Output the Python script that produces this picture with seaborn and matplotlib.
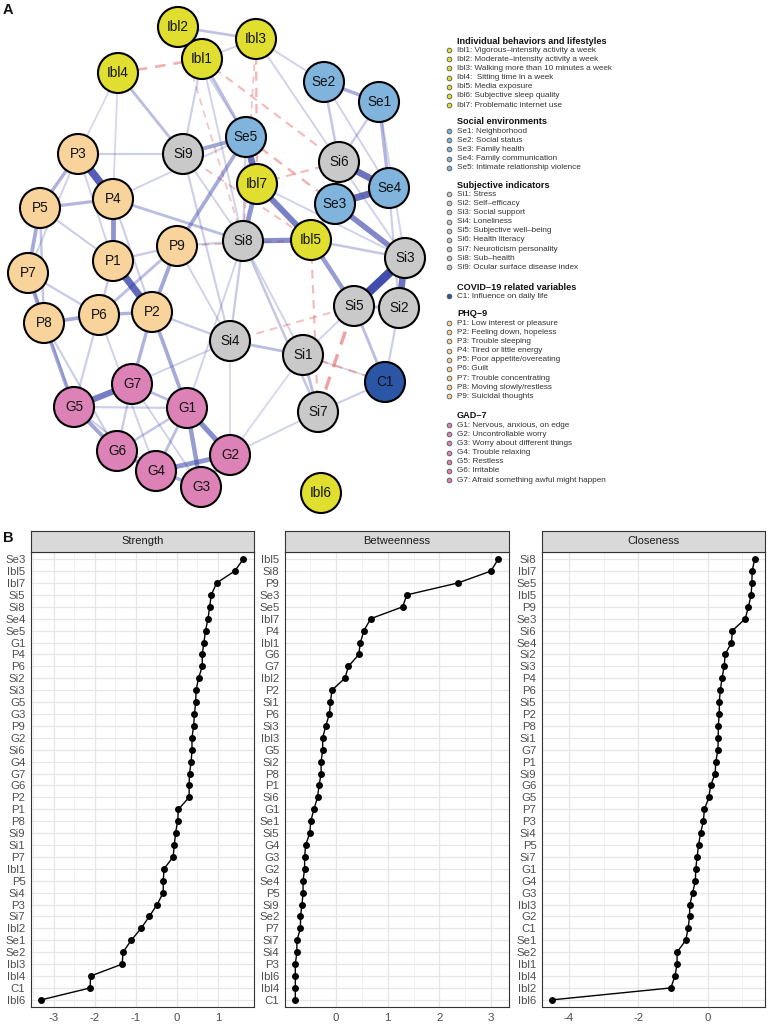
import numpy as np
import pandas as pd
import matplotlib
matplotlib.use("Agg")
import matplotlib.pyplot as plt
import seaborn as sns

# ---------------- DATA ----------------
node_names = ["Ibl1", "Ibl2", "Ibl3", "Ibl4", "Ibl5", "Ibl6", "Ibl7",
              "Se1", "Se2", "Se3", "Se4", "Se5",
              "Si1", "Si2", "Si3", "Si4", "Si5", "Si6", "Si7", "Si8", "Si9",
              "C1",
              "P1", "P2", "P3", "P4", "P5", "P6", "P7", "P8", "P9",
              "G1", "G2", "G3", "G4", "G5", "G6", "G7"]
node_groups = (["Ibl"] * 7 + ["Se"] * 5 + ["Si"] * 9 + ["C"] + ["P"] * 9 + ["G"] * 7)
# network layout (layout units)
layout_x = [202, 178, 256, 118, 311, 321, 257,
            379, 324, 335, 389, 246,
            303, 399, 405, 230, 354, 339, 318, 243, 183,
            385,
            113, 152, 78, 113, 40, 99, 28, 44, 177,
            187, 230, 201, 156, 74, 117, 132]
layout_y = [59, 27, 39, 73, 240, 493, 184,
            102, 82, 204, 188, 137,
            355, 308, 258, 341, 306, 162, 412, 241, 154,
            382,
            261, 312, 154, 199, 208, 315, 273, 323, 246,
            408, 455, 487, 471, 407, 451, 384]

edge_from = ["Si3", "P3", "P1", "Se3", "Si6", "Se5", "Si3", "G5", "Ibl7", "Se3",
             "Ibl5", "Ibl7", "G1", "G4", "G1", "P4", "Ibl5", "Se3", "Se5", "Se5",
             "P9", "P7", "P7", "P8", "P6", "P5", "P5", "P8", "P2", "P2",
             "G6", "G5", "Se2", "Se1", "Si5", "P4", "Ibl1", "Ibl2", "Ibl4", "Ibl1",
             "Si4", "Si1", "Si5", "P9", "G1", "G1", "Ibl5", "Si8", "Se2", "Se1",
             "Si4", "Ibl5", "C1", "Si7", "G2", "G6", "G7", "P8", "P1", "P3",
             "P6", "P2", "G5", "G3", "G4", "P1", "P7", "P5", "Ibl1", "Ibl3",
             "Ibl3", "Ibl2", "Si9", "Si9", "Si8", "Si4", "Si4", "Si1", "Si1", "Si6",
             "Se4", "Se1", "Se2", "P4", "P3", "P3", "P4", "P9", "P6", "P8",
             "P7", "G7", "G5", "G2", "Ibl4", "Ibl4", "Ibl1", "Ibl1", "Ibl7", "Se5",
             "P9", "Si5",
             "Ibl4", "Ibl3", "Si7", "Se5", "Ibl1", "C1", "Si9", "Ibl2", "Ibl7", "P9",
             "Si4", "Ibl5", "Ibl3"]
edge_to = ["Si5", "P4", "P2", "Se4", "Se4", "Ibl7", "Si2", "G7", "Ibl5", "Si3",
           "Si8", "Si8", "G2", "G2", "G3", "P1", "Si5", "Si6", "Si9", "P9",
           "P2", "P5", "P8", "P6", "P2", "P3", "P4", "G5", "G7", "G1",
           "G4", "G6", "Se1", "Se4", "Si2", "Si8", "Ibl2", "Ibl3", "Si9", "Se5",
           "Si1", "Si7", "C1", "P6", "G7", "G4", "Se3", "Si7", "Si6", "Si6",
           "Si8", "Si3", "Si2", "C1", "Si7", "G1", "G6", "P5", "P6", "Si9",
           "G5", "Si4", "G1", "G2", "G3", "P9", "P6", "P1", "Si9", "Si6",
           "Se2", "Se5", "Si4", "Si8", "G1", "G7", "G2", "Si8", "C1", "Si3",
           "Si2", "Si3", "Se4", "P2", "P1", "P7", "Se5", "Si4", "G4", "G6",
           "G5", "G3", "G4", "Si1", "P3", "P4", "Ibl3", "Si8", "Si3", "Si8",
           "Si8", "Si1",
           "Ibl1", "Ibl7", "Si5", "Se3", "Si6", "Si1", "Ibl5", "Si8", "Si6", "Ibl5",
           "Si5", "Si7", "Si8"]
edge_weight = [0.42, 0.36, 0.33, 0.32, 0.30, 0.30, 0.30, 0.27, 0.26, 0.24,
               0.22, 0.20, 0.22, 0.20, 0.18, 0.20, 0.18, 0.16, 0.15, 0.14,
               0.15, 0.14, 0.15, 0.14, 0.12, 0.12, 0.11, 0.14, 0.12, 0.14,
               0.14, 0.15, 0.13, 0.11, 0.10, 0.09, 0.09, 0.08, 0.09, 0.09,
               0.09, 0.09, 0.09, 0.09, 0.09, 0.09, 0.09, 0.07, 0.07, 0.06,
               0.06, 0.07, 0.05, 0.05, 0.04, 0.07, 0.06, 0.07, 0.06, 0.05,
               0.05, 0.06, 0.05, 0.07, 0.12, 0.06, 0.06, 0.05, 0.05, 0.04,
               0.04, 0.04, 0.05, 0.04, 0.04, 0.04, 0.03, 0.04, 0.03, 0.04,
               0.05, 0.04, 0.04, 0.05, 0.04, 0.04, 0.04, 0.04, 0.04, 0.05,
               0.04, 0.04, 0.05, 0.03, 0.03, 0.03, 0.04, 0.04, 0.04, 0.05,
               0.05, 0.04,
               -0.08, -0.06, -0.12, -0.07, -0.05, -0.05, -0.04, -0.03, -0.05, -0.03,
               -0.04, -0.05, -0.03]

legend_titles = ["Individual behaviors and lifestyles", "Social environments",
                 "Subjective indicators", "COVID\u201319 related variables",
                 "PHQ\u20139", "GAD\u20137"]
legend_items = [
    ["Ibl1: Vigorous\u2013intensity activity a week",
     "Ibl2: Moderate\u2013intensity activity a week",
     "Ibl3: Walking more than 10 minutes a week",
     "Ibl4:  Sitting time in a week",
     "Ibl5: Media exposure",
     "Ibl6: Subjective sleep quality",
     "Ibl7: Problematic internet use"],
    ["Se1: Neighborhood", "Se2: Social status", "Se3: Family health",
     "Se4: Family communication", "Se5: Intimate relationship violence"],
    ["Si1: Stress", "Si2: Self\u2013efficacy", "Si3: Social support", "Si4: Loneliness",
     "Si5: Subjective well\u2013being", "Si6: Health literacy",
     "Si7: Neuroticism personality", "Si8: Sub\u2013health",
     "Si9: Ocular surface disease index"],
    ["C1: Influence on daily life"],
    ["P1: Low interest or pleasure", "P2: Feeling down, hopeless",
     "P3: Trouble sleeping", "P4: Tired or little energy",
     "P5: Poor appetite/overeating", "P6: Guilt", "P7: Trouble concentrating",
     "P8: Moving slowly/restless", "P9: Suicidal thoughts"],
    ["G1: Nervous, anxious, on edge", "G2: Uncontrollable worry",
     "G3: Worry about different things", "G4: Trouble relaxing", "G5: Restless",
     "G6: Irritable", "G7: Afraid something awful might happen"],
]
legend_groups = ["Ibl", "Se", "Si", "C", "P", "G"]

strength_labels = ["Se3", "Ibl5", "Ibl7", "Si5", "Si8", "Se4", "Se5", "G1", "P4", "P6",
                   "Si2", "Si3", "G5", "G3", "P9", "G2", "Si6", "G4", "G7", "G6",
                   "P2", "P1", "P8", "Si9", "Si1", "P7", "Ibl1", "P5", "Si4", "P3",
                   "Si7", "Ibl2", "Se1", "Se2", "Ibl3", "Ibl4", "C1", "Ibl6"]
strength_values = [1.62, 1.41, 0.97, 0.84, 0.80, 0.76, 0.70, 0.66, 0.62, 0.62,
                   0.53, 0.47, 0.46, 0.43, 0.41, 0.37, 0.37, 0.35, 0.31, 0.30,
                   0.30, 0.04, 0.02, -0.03, -0.06, -0.09, -0.31, -0.33, -0.33, -0.48,
                   -0.67, -0.87, -1.11, -1.31, -1.33, -2.10, -2.11, -3.30]
betweenness_labels = ["Ibl5", "Si8", "P9", "Se3", "Se5", "Ibl7", "P4", "Ibl1", "G6", "G7",
                      "Ibl2", "P2", "Si1", "P6", "Si3", "Ibl3", "G5", "Si2", "P8", "P1",
                      "Si6", "G1", "Se1", "Si5", "G4", "G3", "G2", "Se4", "P5", "Si9",
                      "Se2", "P7", "Si7", "Si4", "P3", "Ibl6", "Ibl4", "C1"]
betweenness_values = [3.14, 3.00, 2.36, 1.37, 1.29, 0.67, 0.54, 0.47, 0.44, 0.24,
                      0.17, -0.08, -0.11, -0.13, -0.20, -0.26, -0.26, -0.29, -0.29, -0.33,
                      -0.36, -0.43, -0.49, -0.51, -0.59, -0.61, -0.61, -0.64, -0.64, -0.66,
                      -0.69, -0.69, -0.76, -0.76, -0.79, -0.79, -0.79, -0.79]
closeness_labels = ["Si8", "Ibl7", "Se5", "Ibl5", "P9", "Se3", "Si6", "Se4", "Si2", "Si3",
                    "P4", "P6", "Si5", "P2", "P8", "Si1", "G7", "P1", "Si9", "G6",
                    "G5", "P7", "P3", "Si4", "P5", "Si7", "G1", "G4", "G3", "Ibl3",
                    "G2", "C1", "Se1", "Se2", "Ibl1", "Ibl4", "Ibl2", "Ibl6"]
closeness_values = [1.36, 1.29, 1.28, 1.26, 1.18, 1.09, 0.72, 0.69, 0.51, 0.48,
                    0.42, 0.37, 0.34, 0.34, 0.31, 0.31, 0.30, 0.24, 0.22, 0.09,
                    0.04, -0.09, -0.12, -0.20, -0.26, -0.30, -0.34, -0.35, -0.43, -0.51,
                    -0.52, -0.56, -0.63, -0.88, -0.88, -0.94, -1.06, -4.49]
panel_titles = ["Strength", "Betweenness", "Closeness"]

# ---------------- STYLE ----------------
sns.set_style("white")
plt.rcParams["font.family"] = ["Liberation Sans", "DejaVu Sans"]

group_colors = {"Ibl": "#E0DE2E", "Se": "#80B4DD", "Si": "#C9C9C9",
                "C": "#2B56A6", "P": "#F8D49C", "G": "#DD82B7"}
pos_color = np.array(matplotlib.colors.to_rgb("#3C46AA"))
neg_color = np.array(matplotlib.colors.to_rgb("#E35A5A"))

W, H = 771, 1028
fig = plt.figure(figsize=(W / 100, H / 100), dpi=100)


def fx(x):
    return x / W


def fy(y):
    return 1 - y / H


def rect(x0, x1, y0, y1):
    return [fx(x0), fy(y1), (x1 - x0) / W, (y1 - y0) / H]


# ---------------- NETWORK ----------------
nodes = pd.DataFrame({"name": node_names, "group": node_groups,
                      "x": layout_x, "y": layout_y})
pos = {n: (x, y) for n, x, y in zip(node_names, layout_x, layout_y)}

axn = fig.add_axes(rect(0, 440, 0, 525))
axn.set_xlim(0, 440)
axn.set_ylim(525, 0)
axn.axis("off")

wmax = max(abs(w) for w in edge_weight)
order = np.argsort([abs(w) for w in edge_weight])
for i in order:
    a, b, w = edge_from[i], edge_to[i], edge_weight[i]
    r = abs(w) / wmax
    lw = 0.9 + 5.4 * r
    alpha = min(1.0, 0.12 + 0.85 * r ** 0.85)
    if w >= 0:
        col = tuple(pos_color) + (alpha,)
        ls = "-"
    else:
        col = tuple(neg_color) + (min(1.0, alpha + 0.15),)
        ls = (0, (4, 3))
    axn.plot([pos[a][0], pos[b][0]], [pos[a][1], pos[b][1]], color=col, lw=lw,
             ls=ls, solid_capstyle="butt", zorder=1)

sns.scatterplot(data=nodes, x="x", y="y", hue="group", palette=group_colors,
                s=830, edgecolor="black", linewidth=1.5, legend=False, ax=axn,
                zorder=3)
axn.set_xlabel("")
axn.set_ylabel("")
for n, x, y in zip(node_names, layout_x, layout_y):
    axn.text(x, y, n, ha="center", va="center", fontsize=9.8,
             color="#111111", zorder=4)

# ---------------- LEGEND ----------------
title_y = [41, 122, 185, 287, 314, 416]
row_h = 9.15
for t, items, g, ty in zip(legend_titles, legend_items, legend_groups, title_y):
    fig.text(fx(457), fy(ty), t, fontsize=6.6, fontweight="bold",
             ha="left", va="center", color="#111111")
    for k, it in enumerate(items):
        yy = ty + row_h * (k + 1)
        fig.text(fx(457), fy(yy), it, fontsize=5.9, ha="left", va="center",
                 color="#333333")
        fig.lines.append(matplotlib.lines.Line2D(
            [fx(449)], [fy(yy)], marker="o", markersize=3.4,
            markerfacecolor=group_colors[g], markeredgecolor="#555555",
            markeredgewidth=0.6, transform=fig.transFigure))

fig.text(fx(3), fy(10), "A", fontsize=10.5, fontweight="bold", ha="left",
         va="center", color="#111111")
fig.text(fx(3), fy(538), "B", fontsize=10.5, fontweight="bold", ha="left",
         va="center", color="#111111")

# ---------------- CENTRALITY PANELS ----------------
panels = [
    (strength_labels, strength_values, (31, 254), (-3.55, 1.88),
     [-3, -2, -1, 0, 1], [-3.5, -2.5, -1.5, -0.5, 0.5, 1.5]),
    (betweenness_labels, betweenness_values, (285, 509), (-0.99, 3.35),
     [0, 1, 2, 3], [-0.5, 0.5, 1.5, 2.5]),
    (closeness_labels, closeness_values, (542, 765), (-4.78, 1.66),
     [-4, -2, 0], [-3, -1, 1]),
]
for (labels, vals, (x0, x1), xlim, majors, minors), title in zip(panels, panel_titles):
    ax = fig.add_axes(rect(x0, x1, 552, 1007))
    n = len(labels)
    ypos = np.arange(n)[::-1]
    df = pd.DataFrame({"value": vals, "ypos": ypos})
    ax.set_xlim(*xlim)
    ax.set_ylim(-0.6, n - 1 + 0.6)
    for m in minors:
        ax.axvline(m, color="#EDEDED", lw=0.55, zorder=0)
    for m in majors:
        ax.axvline(m, color="#E6E6E6", lw=0.9, zorder=0)
    for yv in ypos:
        ax.axhline(yv, color="#E6E6E6", lw=0.9, zorder=0)
    sns.lineplot(data=df, x="value", y="ypos", sort=False, estimator=None,
                 color="black", lw=1.0, ax=ax, zorder=2)
    sns.scatterplot(data=df, x="value", y="ypos", color="black", s=25,
                    edgecolor="black", linewidth=0, ax=ax, zorder=3)
    ax.set_xticks(majors)
    ax.set_xticklabels([str(m) for m in majors])
    ax.set_yticks(ypos)
    ax.set_yticklabels(labels)
    ax.set_xlabel("")
    ax.set_ylabel("")
    ax.tick_params(axis="both", length=2.5, width=0.6, color="#333333",
                   labelsize=8.2, labelcolor="#4D4D4D", pad=1.5)
    for sp in ax.spines.values():
        sp.set_color("#333333")
        sp.set_linewidth(0.8)
        sp.set_visible(True)
    ax.set_facecolor("white")

    sax = fig.add_axes(rect(x0, x1, 531, 552))
    sax.set_facecolor("#D9D9D9")
    sax.set_xticks([])
    sax.set_yticks([])
    for sp in sax.spines.values():
        sp.set_color("#333333")
        sp.set_linewidth(0.8)
        sp.set_visible(True)
    sax.text(0.5, 0.5, title, ha="center", va="center", fontsize=8.0,
             color="#1A1A1A", transform=sax.transAxes)

fig.savefig("out.png", dpi=100, facecolor="white")
